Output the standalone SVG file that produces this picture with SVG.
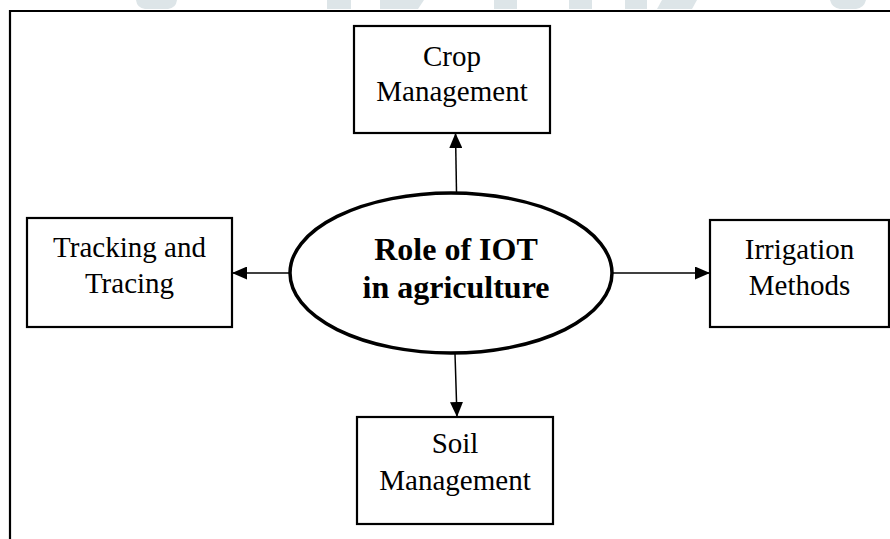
<svg xmlns="http://www.w3.org/2000/svg" width="890" height="539" viewBox="0 0 890 539">
  <style>
    .box { fill: #ffffff; stroke: #000000; stroke-width: 2.2; }
    .lbl { font-family: "Liberation Serif", "Times New Roman", serif; font-size: 29px; fill: #000000; text-anchor: middle; }
    .hub { font-family: "Liberation Serif", "Times New Roman", serif; font-size: 32px; font-weight: bold; fill: #000000; text-anchor: middle; }
    .conn { stroke: #000000; stroke-width: 1.5; fill: none; marker-end: url(#ah); }
    .wm { fill: #dde5e8; stroke: none; }
  </style>
  <defs>
    <marker id="ah" viewBox="0 0 15 13" refX="15" refY="6.5" markerWidth="15" markerHeight="13" markerUnits="userSpaceOnUse" orient="auto">
      <path d="M0,0 L15,6.5 L0,13 z" fill="#000000"/>
    </marker>
  </defs>
  <rect x="0" y="0" width="890" height="539" fill="#ffffff"/>
  <g id="watermark">
    <path class="wm" d="M136,0 L177,0 Q176,8 168,9 L145,9 Q137,8 136,0 z"/>
    <rect class="wm" x="327" y="0" width="24" height="9"/>
    <path class="wm" d="M380,0 L424,0 L418,9 L380,9 z"/>
    <rect class="wm" x="494" y="0" width="23" height="9"/>
    <rect class="wm" x="569" y="0" width="23" height="9"/>
    <rect class="wm" x="625" y="0" width="22" height="9"/>
    <path class="wm" d="M662,0 L697,0 L692,9 L657,9 z"/>
    <path class="wm" d="M830,0 L866,0 Q864,8 856,9 L840,9 Q832,8 830,0 z"/>
  </g>
  <g id="frame">
    <path d="M10,539 L10,11 L890,11" fill="none" stroke="#000000" stroke-width="2.2"/>
  </g>
  <g id="connectors">
    <line class="conn" x1="456.5" y1="192" x2="455.5" y2="133"/>
    <line class="conn" x1="290" y1="273" x2="232" y2="273"/>
    <line class="conn" x1="612" y1="273" x2="710" y2="273"/>
    <line class="conn" x1="455" y1="354" x2="457" y2="417"/>
  </g>
  <g id="hub">
    <ellipse cx="451" cy="273" rx="161" ry="80" fill="#ffffff" stroke="#000000" stroke-width="3.5"/>
    <text class="hub" x="456" y="260">Role of IOT</text>
    <text class="hub" x="456" y="298">in agriculture</text>
  </g>
  <g id="crop">
    <rect class="box" x="354" y="26" width="196" height="107"/>
    <text class="lbl" x="452" y="66">Crop</text>
    <text class="lbl" x="452" y="101">Management</text>
  </g>
  <g id="tracking">
    <rect class="box" x="27" y="218" width="205" height="109"/>
    <text class="lbl" x="129.5" y="257">Tracking and</text>
    <text class="lbl" x="129.5" y="293">Tracing</text>
  </g>
  <g id="irrigation">
    <rect class="box" x="710" y="220" width="179" height="107"/>
    <text class="lbl" x="799.5" y="259">Irrigation</text>
    <text class="lbl" x="799.5" y="295">Methods</text>
  </g>
  <g id="soil">
    <rect class="box" x="357" y="417" width="196" height="107"/>
    <text class="lbl" x="455" y="453">Soil</text>
    <text class="lbl" x="455" y="490">Management</text>
  </g>
</svg>
